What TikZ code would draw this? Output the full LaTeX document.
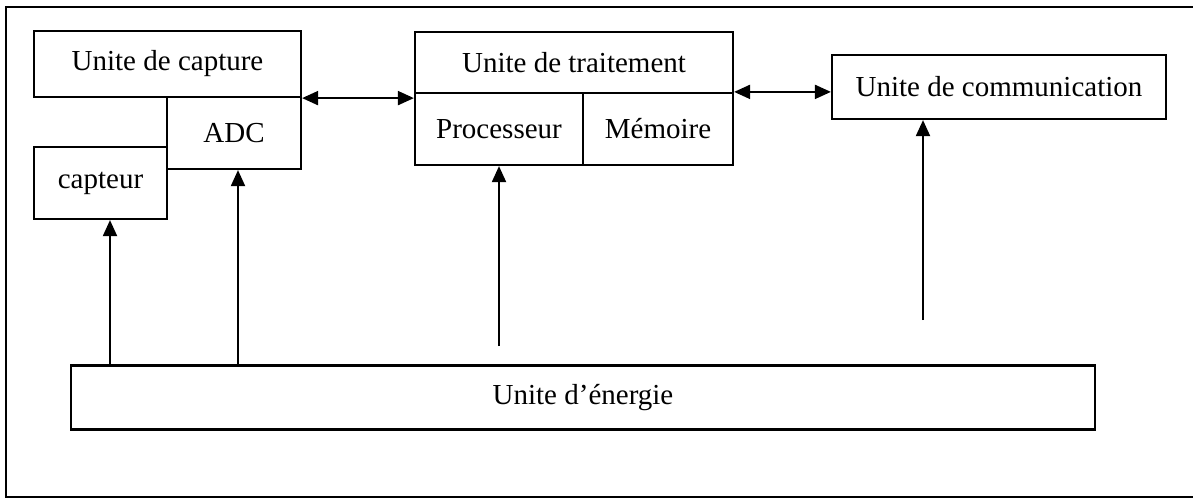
\documentclass[tikz,border=0pt]{standalone}
\usepackage{fontspec}
\setmainfont{Liberation Serif}
\usetikzlibrary{arrows.meta}

\begin{document}
\begin{tikzpicture}[x=1pt, y=-1pt,
        unit/.style={draw, line width = 2.2pt, rectangle, inner sep=0pt,
            font=\fontsize{29}{34}\selectfont},
        fleche/.style={line width = 2pt, -{Triangle[length=16pt,width=14pt]}},
        doublefleche/.style={line width = 2pt,
            {Triangle[length=16pt,width=14pt]}-{Triangle[length=16pt,width=14pt]}}]
        \useasboundingbox (0,0) rectangle (1193,498);
        % frame
        \draw[line width = 2.4pt] (1215,7) -- (6,7) -- (6,497) -- (1215,497);

        % unite de capture
        \node[unit, minimum width=267pt, minimum height=66pt] (capture) at (167.5,64) {Unite de capture};
        \node[unit, minimum width=134pt, minimum height=72pt] (adc) at (234,133) {ADC};
        \node[unit, minimum width=133pt, minimum height=72pt] (capteur) at (100.5,183) {capteur};

        % unite de traitement
        \node[unit, minimum width=318pt, minimum height=61pt] (traitement) at (574,62.5) {Unite de traitement};
        \node[unit, minimum width=168pt, minimum height=72pt] (processeur) at (499,129) {Processeur};
        \node[unit, minimum width=150pt, minimum height=72pt] (memoire) at (658,129) {Mémoire};

        % unite de communication
        \node[unit, minimum width=334pt, minimum height=64pt] (communication) at (999,87) {Unite de communication};

        % unite d'energie
        \node[unit, minimum width=1024pt, minimum height=64pt] (energie) at (583,397.5) {Unite d’énergie};

        % liaisons
        \draw[doublefleche] (capture.south east) -- (capture.south east -| traitement.west);
        \draw[doublefleche] (memoire.north east) -- (memoire.north east -| communication.west);

        \coordinate (c1) at ([xshift=9.5pt]capteur.south);
        \coordinate (c2) at ([xshift=4pt]adc.south);
        \draw[fleche] (c1 |- energie.north) -- (c1);
        \draw[fleche] (c2 |- energie.north) -- (c2);

        \coordinate (p0) at (499,346);
        \draw[fleche] (p0) -- (processeur.south);
        \coordinate (m0) at (923,320);
        \draw[fleche] (m0) -- (m0 |- communication.south);
\end{tikzpicture}
\end{document}
